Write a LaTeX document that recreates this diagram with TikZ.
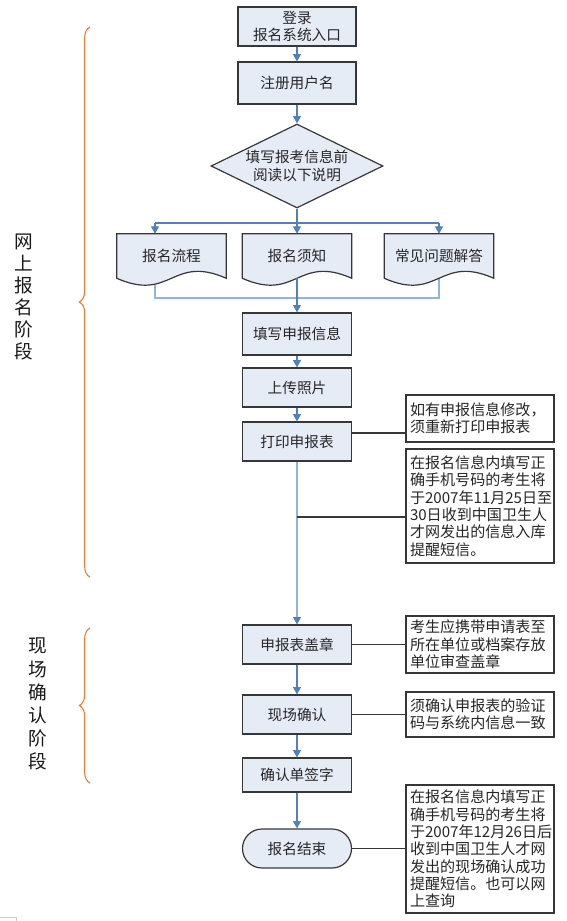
\documentclass[tikz,border=0pt]{standalone}
\usepackage{fontspec}
\setmainfont{Noto Sans CJK SC}
\usepackage{tikz}
\usetikzlibrary{arrows.meta,shapes.geometric,decorations.pathreplacing,backgrounds}
\definecolor{boxfill}{RGB}{230,236,246}
\definecolor{boxline}{RGB}{55,55,55}
\definecolor{flowblue}{RGB}{79,129,189}
\definecolor{flowlight}{RGB}{142,180,227}
\definecolor{braceorange}{RGB}{248,118,38}
\def \px{0.75pt}
\tikzstyle{box} = [draw=boxline,fill=boxfill,line width=0.9pt,minimum width=109*\px,minimum height=39*\px,inner sep=0pt,align=center,text=black!85,font=\fontsize{11}{13}\selectfont]
\tikzstyle{decision} = [box,diamond,aspect=2.05,minimum width=172*\px,minimum height=84*\px]
\tikzstyle{terminal} = [box,rounded corners=14.6pt]
\tikzstyle{doc} = [minimum width=109*\px,minimum height=44*\px,inner sep=0pt,align=center,text=black!85,font=\fontsize{11}{13}\selectfont]
\tikzstyle{docshape} = [draw=boxline,fill=boxfill,line width=0.9pt]
\tikzstyle{note} = [draw=boxline,fill=white,line width=0.9pt,inner xsep=3pt,inner ysep=0pt,text width=105pt,align=left,text=black!85,font=\fontsize{11.3}{13}\selectfont]
\tikzstyle{phase} = [align=center,text=black!90,font=\fontsize{14}{16.5}\selectfont]
\tikzstyle{flow} = [draw=flowblue,line width=0.8pt]
\tikzstyle{arrow} = [flow,-{Triangle[width=6pt,length=5.5pt,color=flowblue]}]
\tikzstyle{link} = [draw=boxline,line width=0.8pt]
\tikzstyle{stage} = [braceorange,line width=0.8pt,decorate,decoration={brace,amplitude=8pt}]
\newcommand\docpath[1]{\path[docshape] (#1.north west) -- (#1.north east) -- (#1.south east) .. controls +(-54.5,-24) and +(54.5,24) .. (#1.south west) -- cycle;}

\begin{document}
\begin{tikzpicture}[x=\px,y=-\px]
		\useasboundingbox (0,0) rectangle (567,921);

		% main column
		\node[box,minimum width=118*\px] (login) at (297,26.5) {登录\\报名系统入口};
		\node[box,minimum width=118*\px,minimum height=42*\px] (user) at (297,83) {注册用户名};
		\node[decision] (read) at (297,166) {填写报考信息前\\阅读以下说明};

		\node[doc] (dA) at (171.5,256) {报名流程};
		\node[doc] (dB) at (297,256) {报名须知};
		\node[doc] (dC) at (439,256) {常见问题解答};

		\node[box,minimum height=42*\px] (fill) at (297,334) {填写申报信息};
		\node[box] (photo) at (297,387.5) {上传照片};
		\node[box] (print) at (297,441.5) {打印申报表};
		\node[box] (stamp) at (297,644.5) {申报表盖章};
		\node[box] (check) at (297,714.5) {现场确认};
		\node[box,minimum height=34*\px] (sign) at (297,775) {确认单签字};
		\node[terminal] (finish) at (297,848.5) {报名结束};

		% notes on the right
		\node[note,minimum height=47*\px] (n1) at (480,418.5) {如有申报信息修改，\\须重新打印申报表};
		\node[note,minimum height=114*\px] (n2) at (480,506) {在报名信息内填写正\\确手机号码的考生将\\于2007年11月25日至\\30日收到中国卫生人\\才网发出的信息入库\\提醒短信。};
		\node[note,minimum height=57*\px] (n3) at (480,644.5) {考生应携带申请表至\\所在单位或档案存放\\单位审查盖章};
		\node[note,minimum height=45*\px] (n4) at (480,714.5) {须确认申报表的验证\\码与系统内信息一致};
		\node[note,minimum height=128*\px] (n5) at (480,849) {在报名信息内填写正\\确手机号码的考生将\\于2007年12月26日后\\收到中国卫生人才网\\发出的现场确认成功\\提醒短信。也可以网\\上查询};

		% stages on the left
		\node[phase] (stage1) at (24,296.5) {网\\上\\报\\名\\阶\\段};
		\node[phase,font=\fontsize{14}{17.3}\selectfont] (stage2) at (38,704) {现\\场\\确\\认\\阶\\段};
		\draw[stage] (90,577) -- (90,27);
		\draw[stage] (90,783) -- (90,628);

		% connectors
		\coordinate (spA) at (155,223);
		\coordinate (spC) at (439,223);
		\coordinate (mgA) at (155,298);
		\coordinate (mgC) at (439,298);
		\draw[arrow] (login) -- (user);
		\draw[arrow] (user) -- (read);
		\draw[arrow] (read.south) -- (dB.north);
		\draw[flow] (spA) -- (spC);
		\draw[arrow] (spA) -- (dA.north -| spA);
		\draw[arrow] (spC) -- (dC.north -| spC);
		\begin{scope}[on background layer]
		\draw[flow,draw=flowlight] (dA.south -| mgA) -- (mgA) -- (mgC) -- (dC.south);
		\docpath{dA}
		\docpath{dB}
		\docpath{dC}
		\end{scope}
		\draw[arrow] (dB.south) -- (fill.north);
		\draw[arrow] (fill) -- (photo);
		\draw[arrow] (photo) -- (print);
		\draw[arrow,draw=flowlight] (print) -- (stamp);
		\draw[arrow] (stamp) -- (check);
		\draw[arrow] (check) -- (sign);
		\draw[arrow] (sign) -- (finish);

		% lines to the notes
		\coordinate (k1) at (0,433);
		\coordinate (k2) at (297,517);
		\draw[link] (print.east |- k1) -- (n1.west |- k1);
		\draw[link] (k2) -- (n2.west |- k2);
		\draw[link] (stamp.east) -- (n3.west);
		\draw[link] (check.east) -- (n4.west);
		\draw[link] (finish.east) -- (n5.west |- finish.east);

		\draw[gray!40,line width=0.75pt] (0,917) -- (16,917) -- (16,921);
\end{tikzpicture}
\end{document}
